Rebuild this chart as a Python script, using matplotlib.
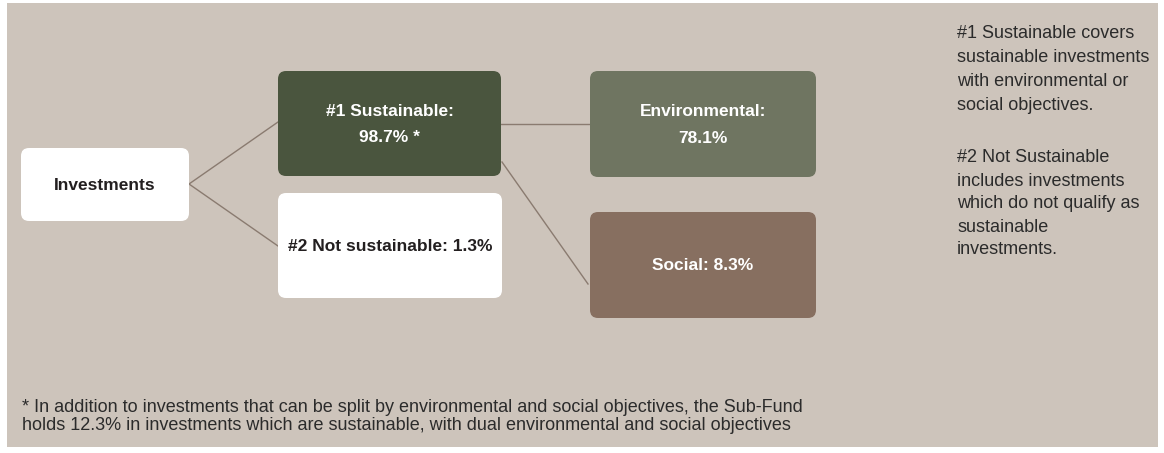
import matplotlib
matplotlib.use("Agg")
import matplotlib.pyplot as plt
from matplotlib.patches import FancyBboxPatch, Rectangle

plt.rcParams["font.family"] = ["Liberation Sans", "DejaVu Sans"]

# ── data ─────────────────────────────────────────────
categories = ["Investments", "#1 Sustainable", "#2 Not sustainable", "Environmental", "Social"]
shares = [None, 98.7, 1.3, 78.1, 8.3]
box_labels = [
    "Investments",
    "#1 Sustainable:\n98.7% *",
    "#2 Not sustainable: 1.3%",
    "Environmental:\n78.1%",
    "Social: 8.3%",
]
links = [(0, 1), (0, 2), (1, 3), (1, 4)]

notes_1 = ["#1 Sustainable covers", "sustainable investments",
           "with environmental or", "social objectives."]
notes_2 = ["#2 Not Sustainable", "includes investments",
           "which do not qualify as", "sustainable", "investments."]
footnote = ["* In addition to investments that can be split by environmental and social objectives, the Sub-Fund",
            "holds 12.3% in investments which are sustainable, with dual environmental and social objectives"]

# ── layout (pixel coords, y down) ────────────────────
W, H = 1164, 453
bg = "#cdc4bb"
boxes = [(21, 148, 189, 221), (278, 71, 501, 176), (278, 193, 502, 298),
         (590, 71, 816, 177), (590, 212, 816, 318)]
fills = ["white", "#4a553e", "white", "#6f7561", "#876f60"]
txt_col = ["#231f20", "white", "#231f20", "white", "white"]
# anchor points for the connectors
starts = {(0, 1): (189, 184), (0, 2): (189, 184), (1, 3): (501, 124), (1, 4): (502, 162)}
ends = {(0, 1): (278, 122), (0, 2): (278, 246), (1, 3): (590, 124), (1, 4): (588, 284)}

fig = plt.figure(figsize=(W / 100, H / 100), dpi=100)
ax = fig.add_axes([0, 0, 1, 1])
ax.set_xlim(0, W)
ax.set_ylim(H, 0)
ax.axis("off")

ax.add_patch(Rectangle((7, 3), 1151, 444, color=bg, lw=0))

for lk in links:
    (x0, y0), (x1, y1) = starts[lk], ends[lk]
    ax.plot([x0, x1], [y0, y1], color="#8a7b70", lw=1.0, zorder=2)

for (x0, y0, x1, y1), fc, tc, lab in zip(boxes, fills, txt_col, box_labels):
    ax.add_patch(FancyBboxPatch((x0, y0), x1 - x0, y1 - y0,
                                boxstyle="round,pad=0,rounding_size=8",
                                fc=fc, ec="none", zorder=3))
    ax.text((x0 + x1) / 2, (y0 + y1) / 2 + 1, lab, color=tc, fontsize=12.5,
            fontweight="bold", ha="center", va="center", linespacing=2.0, zorder=4)

for i, line in enumerate(notes_1):
    ax.text(957, 33 + i * 24, line, fontsize=13, color="#2b2b2b", va="center")
for i, line in enumerate(notes_2):
    ax.text(957, 158 + i * 23, line, fontsize=13, color="#2b2b2b", va="center")
for i, line in enumerate(footnote):
    ax.text(22, 407 + i * 18, line, fontsize=13, color="#2b2b2b", va="center")

fig.savefig("out.png", dpi=100)
